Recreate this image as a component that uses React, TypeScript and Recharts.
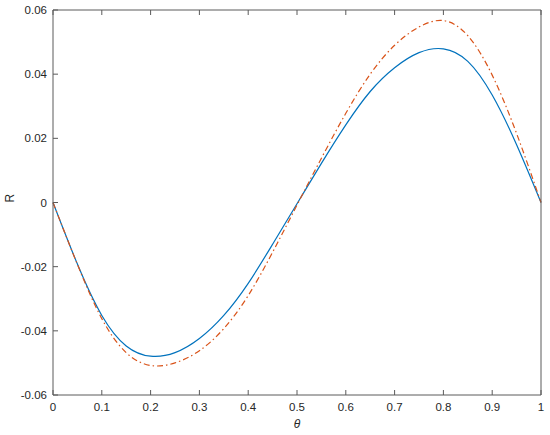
import { LineChart, Line, XAxis, YAxis } from 'recharts';

const theta = [0, 0.05, 0.1, 0.15, 0.2, 0.25, 0.3, 0.35, 0.4, 0.45, 0.5, 0.55, 0.6, 0.65, 0.7, 0.75, 0.8, 0.85, 0.9, 0.95, 1];
const blueR = [0, -0.0192, -0.0352, -0.0447, -0.0479, -0.0468, -0.0424, -0.0352, -0.0252, -0.013, -0.0004, 0.0122, 0.0242, 0.0346, 0.042, 0.0467, 0.0479, 0.044, 0.0335, 0.018, 0];
const orangeR = [0, -0.0193, -0.0362, -0.0468, -0.0508, -0.05, -0.0462, -0.0393, -0.029, -0.0155, -0.0008, 0.0138, 0.0278, 0.04, 0.049, 0.0547, 0.0567, 0.052, 0.0397, 0.0215, 0];

const xTicks = [0, 0.1, 0.2, 0.3, 0.4, 0.5, 0.6, 0.7, 0.8, 0.9, 1];
const yTicks = [-0.06, -0.04, -0.02, 0, 0.02, 0.04, 0.06];

const data = theta.map((t, i) => ({ theta: t, blue: blueR[i], orange: orangeR[i] }));

const axisColor = '#5a5a5a';
const textColor = '#262626';
const font = 'Helvetica, Arial, "Liberation Sans", sans-serif';

// ticks point inward, like MATLAB
const LeftTick = (props: any) => {
  const { x, y, payload } = props;
  return (
    <g>
      <line x1={x + 6} y1={y} x2={x + 11} y2={y} stroke={axisColor} />
      <text x={x} y={y} dy="0.35em" textAnchor="end" fontSize={11.5} fill={textColor} fontFamily={font}>
        {String(payload.value)}
      </text>
    </g>
  );
};

const RightTick = (props: any) => {
  const { x, y } = props;
  return <line x1={x} y1={y} x2={x - 5} y2={y} stroke={axisColor} />;
};

const BottomTick = (props: any) => {
  const { x, y, payload } = props;
  return (
    <g>
      <line x1={x} y1={y - 8} x2={x} y2={y - 13} stroke={axisColor} />
      <text x={x} y={y} dy="0.71em" textAnchor="middle" fontSize={11.5} fill={textColor} fontFamily={font}>
        {String(payload.value)}
      </text>
    </g>
  );
};

const TopTick = (props: any) => {
  const { x, y } = props;
  return <line x1={x} y1={y} x2={x} y2={y + 5} stroke={axisColor} />;
};

export default function App() {
  return (
    <div style={{ position: 'absolute', left: 0, top: 0, width: 550, height: 435, background: '#fff' }}>
      <LineChart width={550} height={435} data={data} margin={{ top: 0, right: 0, bottom: 0, left: 0 }}>
        <XAxis
          xAxisId="b"
          dataKey="theta"
          type="number"
          domain={[0, 1]}
          ticks={xTicks}
          height={40}
          tickSize={0}
          tickMargin={8}
          stroke={axisColor}
          tick={<BottomTick />}
          label={{ value: 'θ', position: 'insideBottom', offset: 7, fontSize: 12, fontStyle: 'italic', fill: textColor, fontFamily: font }}
        />
        <XAxis
          xAxisId="t"
          dataKey="theta"
          type="number"
          orientation="top"
          domain={[0, 1]}
          ticks={xTicks}
          height={10}
          tickSize={0}
          tickMargin={0}
          stroke={axisColor}
          tick={<TopTick />}
        />
        <YAxis
          yAxisId="l"
          type="number"
          domain={[-0.06, 0.06]}
          ticks={yTicks}
          width={53}
          tickSize={0}
          tickMargin={6}
          stroke={axisColor}
          tick={<LeftTick />}
          label={{ value: 'R', angle: -90, position: 'insideLeft', offset: 10, fontSize: 12, fill: textColor, fontFamily: font }}
        />
        <YAxis
          yAxisId="r"
          orientation="right"
          type="number"
          domain={[-0.06, 0.06]}
          ticks={yTicks}
          width={9}
          tickSize={0}
          tickMargin={0}
          stroke={axisColor}
          tick={<RightTick />}
        />
        <Line
          xAxisId="b"
          yAxisId="l"
          type="natural"
          dataKey="blue"
          stroke="#0072BD"
          strokeWidth={1.2}
          dot={false}
          isAnimationActive={false}
        />
        <Line
          xAxisId="b"
          yAxisId="l"
          type="natural"
          dataKey="orange"
          stroke="#D95319"
          strokeWidth={1.2}
          strokeDasharray="6 3 1.5 3"
          dot={false}
          isAnimationActive={false}
        />
      </LineChart>
    </div>
  );
}
